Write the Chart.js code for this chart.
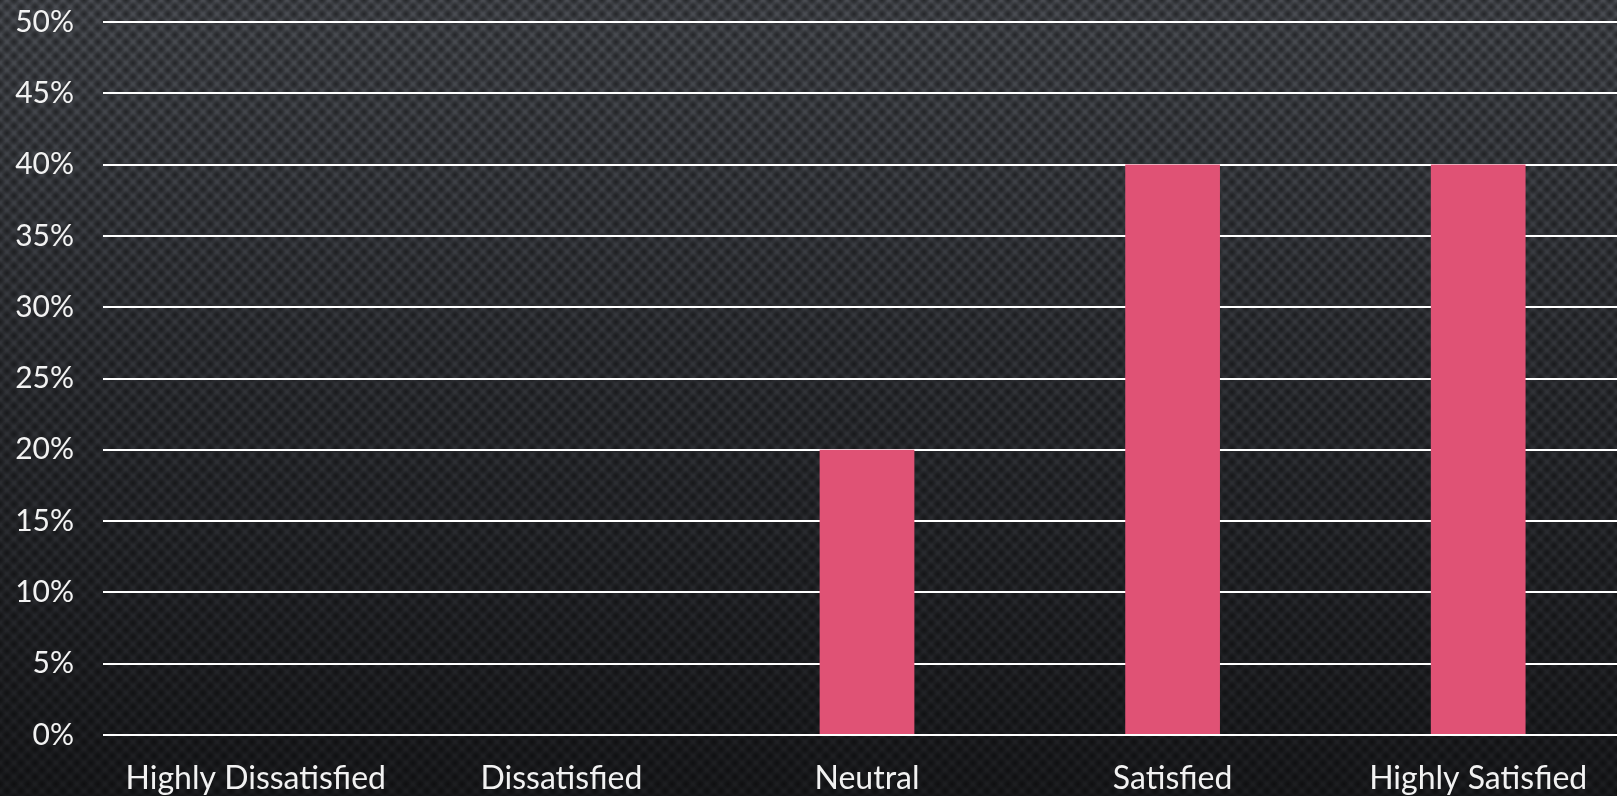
<!DOCTYPE html>
<html>
<head>
<meta charset="utf-8">
<script src="https://cdn.jsdelivr.net/npm/chart.js@4.4.1/dist/chart.umd.min.js"></script>
<style>
  html, body {
    margin: 0;
    padding: 0;
    width: 1617px;
    height: 796px;
    overflow: hidden;
  }
  body {
    background-color: #2b2d31;
    background-image:
      radial-gradient(circle at 50% 50%, rgba(0,0,0,0.5) 0, rgba(0,0,0,0.3) 3px, rgba(0,0,0,0) 6px),
      radial-gradient(circle at 50% 50%, rgba(0,0,0,0.5) 0, rgba(0,0,0,0.3) 3px, rgba(0,0,0,0) 6px),
      linear-gradient(to bottom, #4a4d53 0%, #303237 50%, #1c1d20 100%);
    background-size: 14px 14px, 14px 14px, 100% 100%;
    background-position: 0 0, 7px 7px, 0 0;
  }
  /* canvas is a bit wider/taller than the window so the plot lines up */
  #wrap {
    position: absolute;
    left: 0;
    top: -25px;
    width: 1631px;
    height: 821px;
  }
</style>
</head>
<body>
<div id="wrap"><canvas id="myChart"></canvas></div>
<script>
const categories = ['Highly Dissatisfied', 'Dissatisfied', 'Neutral', 'Satisfied', 'Highly Satisfied'];
const shares = [0, 0, 20, 40, 40];
const yTicks = [0, 5, 10, 15, 20, 25, 30, 35, 40, 45, 50];

const xFont = { family: 'Lato', size: 32 };
const yFont = { family: 'Lato', size: 30 };

const ctx = document.getElementById('myChart').getContext('2d');
new Chart(ctx, {
  type: 'bar',
  data: {
    labels: categories,
    datasets: [
      {
        label: 'Satisfaction',
        backgroundColor: '#e05275',
        data: shares,
        categoryPercentage: 1,
        barPercentage: 0.31,
      },
    ],
  },
  options: {
    responsive: true,
    maintainAspectRatio: false,
    animation: false,
    layout: { padding: 0 },
    plugins: {
      legend: { display: false },
      tooltip: { enabled: false },
    },
    scales: {
      x: {
        grid: { display: false, drawTicks: false },
        border: { display: false },
        ticks: { color: '#f2f2f2', font: xFont, padding: 24, maxRotation: 0, autoSkip: false },
        afterFit: (axis) => { axis.height = 61; },
      },
      y: {
        min: 0,
        max: 50,
        afterBuildTicks: (axis) => { axis.ticks = yTicks.map((v) => ({ value: v })); },
        grid: { color: '#ffffff', lineWidth: 2, drawTicks: false },
        border: { display: false },
        ticks: {
          color: '#f2f2f2',
          font: yFont,
          padding: 29,
          callback: (v) => v + '%',
        },
        afterFit: (axis) => { axis.width = 103; },
      },
    },
  },
});
</script>
</body>
</html>
